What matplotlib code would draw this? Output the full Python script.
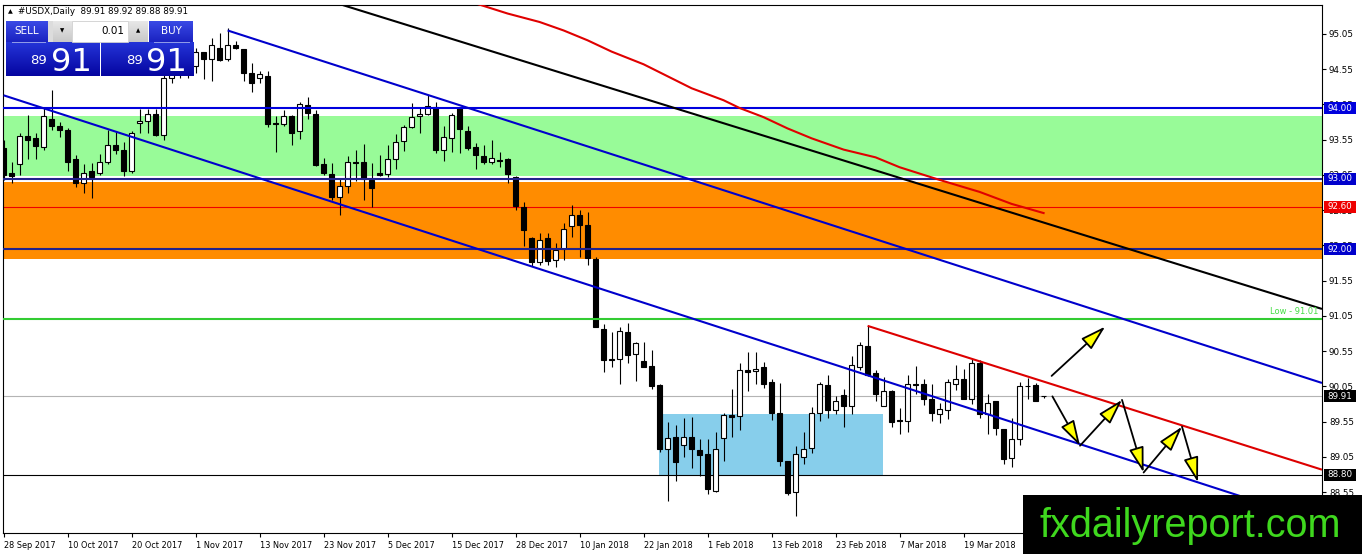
import matplotlib
matplotlib.use("Agg")
import matplotlib.pyplot as plt
import numpy as np
from matplotlib.patches import Rectangle
from matplotlib.transforms import IdentityTransform

W, H, DPI = 1362, 554, 100

# ---------------- data ----------------
opens = [93.43, 93.08, 93.20, 93.60, 93.58, 93.45, 93.85, 93.74, 93.69, 93.27,
         92.93, 93.10, 93.08, 93.24, 93.47, 93.40, 93.10, 93.79, 93.81, 93.92,
         93.62, 94.42, 94.55, 94.62, 94.60, 94.79, 94.69, 94.85, 94.69, 94.89,
         94.84, 94.50, 94.42, 94.46, 93.785, 93.77, 93.88, 93.67, 94.04, 93.92,
         93.21, 93.07, 92.74, 92.90, 93.24, 93.24, 92.98, 93.08, 93.06, 93.27,
         93.53, 93.73, 93.88, 93.91, 94.01, 93.40, 93.58, 94.00, 93.67, 93.44,
         93.32, 93.23, 93.26, 93.27, 93.02, 92.60, 92.15, 91.82, 92.15, 91.84,
         92.00, 92.33, 92.48, 92.34, 91.86, 90.86, 90.44, 90.44, 90.83, 90.51,
         90.41, 90.34, 90.07, 89.16, 89.33, 89.22, 89.33, 89.15, 89.09, 88.57,
         89.32, 89.65, 89.63, 90.28, 90.27, 90.32, 90.11, 89.67, 88.99, 88.55,
         89.05, 89.18, 89.67, 90.07, 89.71, 89.93, 89.78, 90.33, 90.62, 90.24,
         89.78, 89.98, 89.58, 89.56, 90.08, 90.08, 89.87, 89.66, 89.72, 90.09,
         90.16, 89.87, 90.38, 89.66, 89.84, 89.45, 89.03, 89.30, 90.06, 90.07,
         89.91]
highs = [93.55, 93.24, 93.64, 93.90, 93.65, 94.01, 94.25, 93.80, 93.71, 93.34,
         93.21, 93.22, 93.35, 93.69, 93.67, 93.52, 93.67, 93.98, 93.98, 93.98,
         94.55, 94.65, 94.75, 94.85, 94.85, 94.80, 95.00, 95.06, 95.13, 94.95,
         94.84, 94.64, 94.53, 94.53, 93.88, 93.97, 93.90, 94.09, 94.15, 93.97,
         93.29, 93.22, 93.00, 93.32, 93.40, 93.49, 93.22, 93.33, 93.48, 93.63,
         93.76, 94.07, 94.00, 94.19, 94.08, 93.74, 93.93, 94.01, 93.74, 93.51,
         93.47, 93.54, 93.37, 93.29, 93.04, 92.66, 92.17, 92.23, 92.23, 92.08,
         92.37, 92.62, 92.56, 92.52, 91.89, 90.94, 90.82, 90.89, 90.95, 90.68,
         90.68, 90.57, 90.08, 89.55, 89.50, 89.61, 89.62, 89.30, 89.30, 89.41,
         89.68, 90.01, 90.39, 90.54, 90.54, 90.40, 90.15, 90.10, 89.00, 89.20,
         89.41, 89.76, 90.11, 90.21, 89.91, 90.02, 90.48, 90.68, 90.91, 90.28,
         90.19, 90.00, 89.75, 90.21, 90.34, 90.16, 90.08, 89.81, 90.15, 90.35,
         90.30, 90.44, 90.42, 89.95, 89.85, 89.45, 89.60, 90.12, 90.17, 90.10,
         89.92]
lows = [92.98, 92.93, 93.05, 93.27, 93.27, 93.40, 93.69, 93.59, 93.10, 92.88,
        92.79, 92.72, 93.05, 93.21, 93.35, 93.03, 93.08, 93.64, 93.64, 93.60,
        93.55, 94.35, 94.42, 94.43, 94.50, 94.41, 94.39, 94.67, 94.67, 94.83,
        94.39, 94.23, 94.36, 93.73, 93.37, 93.74, 93.48, 93.56, 93.85, 93.18,
        93.05, 92.69, 92.48, 92.80, 92.96, 92.69, 92.59, 93.04, 93.02, 93.14,
        93.39, 93.71, 93.64, 93.90, 93.36, 93.25, 93.38, 93.36, 93.40, 93.13,
        93.21, 93.21, 93.17, 92.93, 92.55, 92.04, 91.76, 91.77, 91.77, 91.74,
        91.84, 92.17, 91.89, 91.77, 90.89, 90.26, 90.33, 90.08, 90.38, 90.13,
        90.32, 90.02, 89.12, 88.42, 88.71, 89.05, 88.89, 88.78, 88.53, 88.55,
        88.99, 89.33, 89.43, 89.98, 90.08, 90.03, 89.58, 88.92, 88.51, 88.21,
        88.95, 89.11, 89.56, 89.61, 89.66, 89.47, 89.66, 90.28, 90.20, 89.84,
        89.77, 89.47, 89.38, 89.40, 89.95, 89.79, 89.56, 89.53, 89.59, 90.00,
        89.87, 89.80, 89.60, 89.37, 89.36, 88.95, 88.91, 89.22, 89.87, 89.85,
        89.88]
closes = [93.05, 93.03, 93.61, 93.55, 93.46, 93.88, 93.74, 93.69, 93.24, 92.93,
          93.08, 93.02, 93.24, 93.47, 93.41, 93.10, 93.64, 93.82, 93.92, 93.62,
          94.42, 94.55, 94.62, 94.70, 94.79, 94.69, 94.90, 94.68, 94.90, 94.85,
          94.49, 94.36, 94.48, 93.78, 93.78, 93.88, 93.64, 94.05, 93.93, 93.19,
          93.08, 92.74, 92.89, 93.24, 93.22, 92.99, 92.86, 93.05, 93.27, 93.52,
          93.73, 93.87, 93.92, 94.03, 93.40, 93.59, 93.90, 93.70, 93.43, 93.33,
          93.24, 93.29, 93.25, 93.06, 92.61, 92.27, 91.81, 92.13, 91.83, 91.98,
          92.29, 92.48, 92.34, 91.87, 90.90, 90.43, 90.43, 90.84, 90.50, 90.66,
          90.32, 90.05, 89.17, 89.32, 88.98, 89.33, 89.16, 89.08, 88.60, 89.16,
          89.65, 89.62, 90.28, 90.26, 90.30, 90.08, 89.68, 88.99, 88.54, 89.09,
          89.17, 89.68, 90.08, 89.71, 89.85, 89.78, 90.35, 90.64, 90.22, 89.94,
          89.99, 89.55, 89.56, 90.09, 90.07, 89.87, 89.67, 89.73, 90.12, 90.15,
          89.87, 90.39, 89.66, 89.81, 89.46, 89.02, 89.31, 90.05, 90.05, 89.85,
          89.91]

date_labels = ['28 Sep 2017', '10 Oct 2017', '20 Oct 2017', '1 Nov 2017',
               '13 Nov 2017', '23 Nov 2017', '5 Dec 2017', '15 Dec 2017',
               '28 Dec 2017', '10 Jan 2018', '22 Jan 2018', '1 Feb 2018',
               '13 Feb 2018', '23 Feb 2018', '7 Mar 2018', '19 Mar 2018']
date_label_bars = [0, 8, 16, 24, 32, 40, 48, 56, 64, 72, 80, 88, 96, 104, 112, 120]

price_ticks = [88.55, 89.05, 89.55, 90.05, 90.55, 91.05, 91.55, 92.05,
               92.55, 93.05, 93.55, 94.05, 94.55, 95.05]

# moving average (red curve)
ma_bars = [58, 63, 67, 70, 73, 76, 80, 83, 86, 90, 92, 95, 98, 101, 105, 109,
           112, 117, 122, 126, 130]
ma_vals = [95.52, 95.34, 95.22, 95.10, 94.96, 94.80, 94.62, 94.45, 94.28, 94.11,
           94.00, 93.87, 93.71, 93.57, 93.41, 93.30, 93.16, 92.98, 92.81, 92.64,
           92.51]

# levels / zones
level_94, level_93, level_92 = 94.00, 93.00, 92.00
level_9260 = 92.60
level_low = 91.01
level_8880 = 88.80
bid = 89.91
green_zone = (93.035, 93.887)
orange_zone = (91.854, 92.955)
blue_box_bars = (81.9, 109.9)
blue_box_prices = (88.80, 89.66)

# trend lines (bar, price)
chan_upper = [(28, 95.10), (164.8, 90.10)]
chan_lower = [(0, 94.18), (164.8, 88.12)]
black_line = [(42.4, 95.46), (164.8, 91.15)]
red_trend = [(108, 90.91), (164.8, 88.87)]

# projection arrows (start, end)
arrows = [((131.0, 90.20), (137.7, 90.90)),
          ((131.1, 89.91), (134.55, 89.21)),
          ((134.55, 89.21), (139.8, 89.86)),
          ((139.8, 89.86), (142.5, 88.83)),
          ((142.5, 88.83), (147.3, 89.48)),
          ((147.3, 89.48), (149.3, 88.69))]

# ---------------- figure ----------------
plt.rcParams['font.family'] = ['DejaVu Sans']
fig = plt.figure(figsize=(W / DPI, H / DPI), dpi=DPI)
fig.patch.set_facecolor('white')


def fxy(px, py):
    return px / W, 1 - py / H


l, t = 3, 5
r, b = 1322, 533
ax = fig.add_axes([l / W, 1 - b / H, (r - l) / W, (b - t) / H])
ax.set_xlim(-0.075, 164.8)
ax.set_ylim(87.972, 95.461)
ax.set_facecolor('white')
for s in ax.spines.values():
    s.set_linewidth(0.8)
    s.set_color('black')

# zones
ax.axhspan(*green_zone, color='#98FB98', lw=0, zorder=0.5)
ax.axhspan(*orange_zone, color='#FF8C00', lw=0, zorder=0.5)
ax.add_patch(Rectangle((blue_box_bars[0], blue_box_prices[0]),
                       blue_box_bars[1] - blue_box_bars[0],
                       blue_box_prices[1] - blue_box_prices[0],
                       fc='#87CEEB', ec='none', zorder=0.6))

# horizontal lines
ax.axhline(bid, color='#b4b4b4', lw=0.8, zorder=1)
ax.axhline(level_9260, color='#ee0000', lw=0.8, zorder=1)
ax.axhline(level_8880, color='black', lw=0.8, zorder=1)

# candles
idx = np.arange(len(opens))
o = np.array(opens); h = np.array(highs); lo = np.array(lows); c = np.array(closes)
ax.vlines(idx, lo, h, color='black', lw=0.8, zorder=3)
bull = c >= o
body_h = np.maximum(np.abs(c - o), 0.004)
body_b = np.minimum(o, c)
ax.bar(idx[bull], body_h[bull], bottom=body_b[bull], width=0.6,
       color='white', edgecolor='black', linewidth=0.8, zorder=3.2)
ax.bar(idx[~bull], body_h[~bull], bottom=body_b[~bull], width=0.6,
       color='black', edgecolor='black', linewidth=0.8, zorder=3.2)

# lines over candles
ax.axhline(level_94, color='#0000dd', lw=1.5, zorder=4)
ax.axhline(level_93, color='#22228c', lw=1.5, zorder=4)
ax.axhline(level_92, color='#22228c', lw=1.5, zorder=4)
ax.axhline(level_low, color='#33cc33', lw=1.5, zorder=4)

for line, col in [(chan_upper, '#0000cc'), (chan_lower, '#0000cc'),
                  (black_line, 'black'), (red_trend, '#dd0000')]:
    xs, ys = zip(*line)
    ax.plot(xs, ys, color=col, lw=1.5, zorder=4, solid_capstyle='butt')
ax.plot(ma_bars, ma_vals, color='#e00000', lw=1.5, zorder=4)

ax.text(164.3, level_low + 0.035, 'Low - 91.01', color='#44dd44', fontsize=6,
        ha='right', va='bottom', zorder=5)

for (x0, y0), (x1, y1) in arrows:
    ax.annotate('', xy=(x1, y1), xytext=(x0, y0),
                arrowprops=dict(arrowstyle='-|>,head_length=1.3,head_width=0.38',
                                fc='#ffff00', ec='black', lw=1.3,
                                mutation_scale=12, shrinkA=0, shrinkB=0),
                zorder=6)

# axes ticks
ax.yaxis.tick_right()
ax.set_yticks(price_ticks)
ax.set_yticklabels([f'{p:.2f}' for p in price_ticks])
ax.tick_params(axis='y', direction='out', length=3, width=0.8, labelsize=6.3,
               pad=2, colors='black')
ax.set_xticks(date_label_bars)
ax.set_xticklabels(date_labels, ha='left')
ax.tick_params(axis='x', direction='out', length=3, width=0.8, labelsize=5.9,
               pad=3, colors='black')

# boxed price labels on the axis
fig.canvas.draw()
ident = IdentityTransform()
box_labels = [(level_94, '94.00', '#0000dd'), (level_93, '93.00', '#0000cc'),
              (level_9260, '92.60', '#ee0000'), (level_92, '92.00', '#0000cc'),
              (bid, '89.91', 'black'), (level_8880, '88.80', 'black')]
for p, txt, col in box_labels:
    yd = ax.transData.transform((0, p))[1]
    fig.add_artist(Rectangle((1324, yd - 6), 32, 12, fc=col, ec='none',
                             transform=ident, zorder=20))
    fig.text(1340 / W, yd / H, txt, color='white', fontsize=6.3, ha='center',
             va='center', zorder=21)


# gradient boxes for the trade panel
def grad_box(x0, y0, x1, y1, top, bottom):
    a = fig.add_axes([x0 / W, 1 - y1 / H, (x1 - x0) / W, (y1 - y0) / H])
    ct = np.array(matplotlib.colors.to_rgb(top))
    cb = np.array(matplotlib.colors.to_rgb(bottom))
    g = np.linspace(0, 1, 64)[:, None, None]
    img = ct * (1 - g) + cb * g
    img = np.repeat(img, 2, axis=1)
    a.imshow(img, aspect='auto', extent=(0, 1, 0, 1))
    a.set_axis_off()
    return a


grad_box(6, 21, 48, 42, '#3a4ae6', '#1a22c0')
grad_box(149, 21, 193, 42, '#3a4ae6', '#1a22c0')
grad_box(6, 42, 99, 76, '#2434d8', '#0505a0')
grad_box(101, 42, 193, 76, '#2434d8', '#0505a0')
grad_box(53, 21, 72, 42, '#e8e8e8', '#c8c8c8')
grad_box(129, 21, 148, 42, '#e8e8e8', '#c8c8c8')
fig.add_artist(Rectangle((72, H - 42), 56, 21, fc='white', ec='#cfcfcf', lw=0.6,
                         transform=ident, zorder=5))
fig.add_artist(Rectangle((48, H - 42), 5, 21, fc='#dcdcdc', ec='none',
                         transform=ident, zorder=5))
fig.add_artist(Rectangle((12, H - 43), 34, 1, fc='#8f9ae8', ec='none',
                         transform=ident, zorder=25))
fig.add_artist(Rectangle((154, H - 43), 36, 1, fc='#8f9ae8', ec='none',
                         transform=ident, zorder=25))

fig.text(*fxy(27, 31), 'SELL', color='white', fontsize=7.5, ha='center', va='center', zorder=30)
fig.text(*fxy(171, 31), 'BUY', color='white', fontsize=7.5, ha='center', va='center', zorder=30)
fig.text(*fxy(124, 31), '0.01', color='black', fontsize=7.5, ha='right', va='center', zorder=30)
fig.text(*fxy(62.5, 31), '▼', color='black', fontsize=4, ha='center', va='center', zorder=30)
fig.text(*fxy(138.5, 31), '▲', color='black', fontsize=4, ha='center', va='center', zorder=30)
fig.text(*fxy(47, 64), '89', color='white', fontsize=9.5, ha='right', va='baseline', zorder=30)
fig.text(*fxy(51, 71), '91', color='white', fontsize=23, ha='left', va='baseline', zorder=30)
fig.text(*fxy(143, 64), '89', color='white', fontsize=9.5, ha='right', va='baseline', zorder=30)
fig.text(*fxy(146, 71), '91', color='white', fontsize=23, ha='left', va='baseline', zorder=30)

# title
fig.text(*fxy(8, 12), '▲', color='black', fontsize=4.5, ha='left', va='center', zorder=30)
fig.text(*fxy(18, 12), '#USDX,Daily  89.91 89.92 89.88 89.91', color='black',
         fontsize=6.3, ha='left', va='center', zorder=30)

# watermark
fig.add_artist(Rectangle((1023, 0), W - 1023, H - 495, fc='black', ec='none',
                         transform=ident, zorder=40))
fig.text(*fxy(1190, 537), 'fxdailyreport.com', color='#3fd81e', fontsize=28.5,
         family='Liberation Sans', ha='center', va='baseline', zorder=41)

fig.savefig('out.png', dpi=DPI, facecolor='white')
